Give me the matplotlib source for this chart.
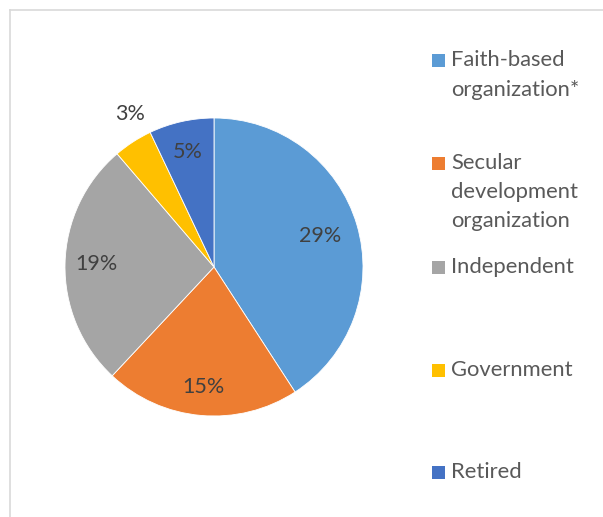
import numpy as np
import matplotlib.pyplot as plt
from matplotlib.patches import Rectangle
from matplotlib.lines import Line2D

plt.rcParams["font.family"] = ["Lato", "DejaVu Sans"]

# Share of respondents by employer type (%)
categories = ["Faith-based\norganization*", "Secular\ndevelopment\norganization",
              "Independent", "Government", "Retired"]
values = [29, 15, 19, 3, 5]
colors = ["#5B9BD5", "#ED7D31", "#A5A5A5", "#FFC000", "#4472C4"]

W, H = 603, 517
fig = plt.figure(figsize=(W / 100, H / 100), dpi=100)

# chart area frame (top and left edges only show)
fig.add_artist(Line2D([10 / W, 10 / W], [0, 1 - 10 / H], color="#d9d9d9", lw=1.2,
                      transform=fig.transFigure))
fig.add_artist(Line2D([10 / W, 1], [1 - 10 / H, 1 - 10 / H], color="#d9d9d9", lw=1.2,
                      transform=fig.transFigure))

cx, cy, r = 214, 267, 149
ax = fig.add_axes([(cx - r) / W, (H - cy - r) / H, 2 * r / W, 2 * r / H])
wedges, _ = ax.pie(values, colors=colors, startangle=90, counterclock=False,
                   radius=1, wedgeprops=dict(edgecolor="white", linewidth=0.6))
ax.set_xlim(-1, 1)
ax.set_ylim(-1, 1)
ax.set_aspect("equal")
ax.axis("off")

# data labels
label_dist = [0.74, 0.81, 0.79, 1.17, 0.79]
label_shift = [0, 0, 0, -4, 0]
for w, v, d, s in zip(wedges, values, label_dist, label_shift):
    ang = np.deg2rad((w.theta1 + w.theta2) / 2 + s)
    ax.text(d * np.cos(ang), d * np.sin(ang), f"{v}%", ha="center", va="center",
            fontsize=15.5, color="#404040", clip_on=False)

# legend, laid out by hand, one text per line
entry_y = [75, 192, 267, 370, 472]
line_h = 29.3
for lab, col, y in zip(categories, colors, entry_y):
    lines = lab.split("\n")
    top = y - (len(lines) - 1) * line_h / 2
    fig.add_artist(Rectangle((432 / W, 1 - (top + 7) / H), 13 / W, 13 / H,
                             facecolor=col, edgecolor="none",
                             transform=fig.transFigure))
    for i, ln in enumerate(lines):
        fig.text(451 / W, 1 - (top + i * line_h) / H, ln, ha="left", va="center",
                 fontsize=15.8, color="#595959")

fig.savefig("out.png", dpi=100)
